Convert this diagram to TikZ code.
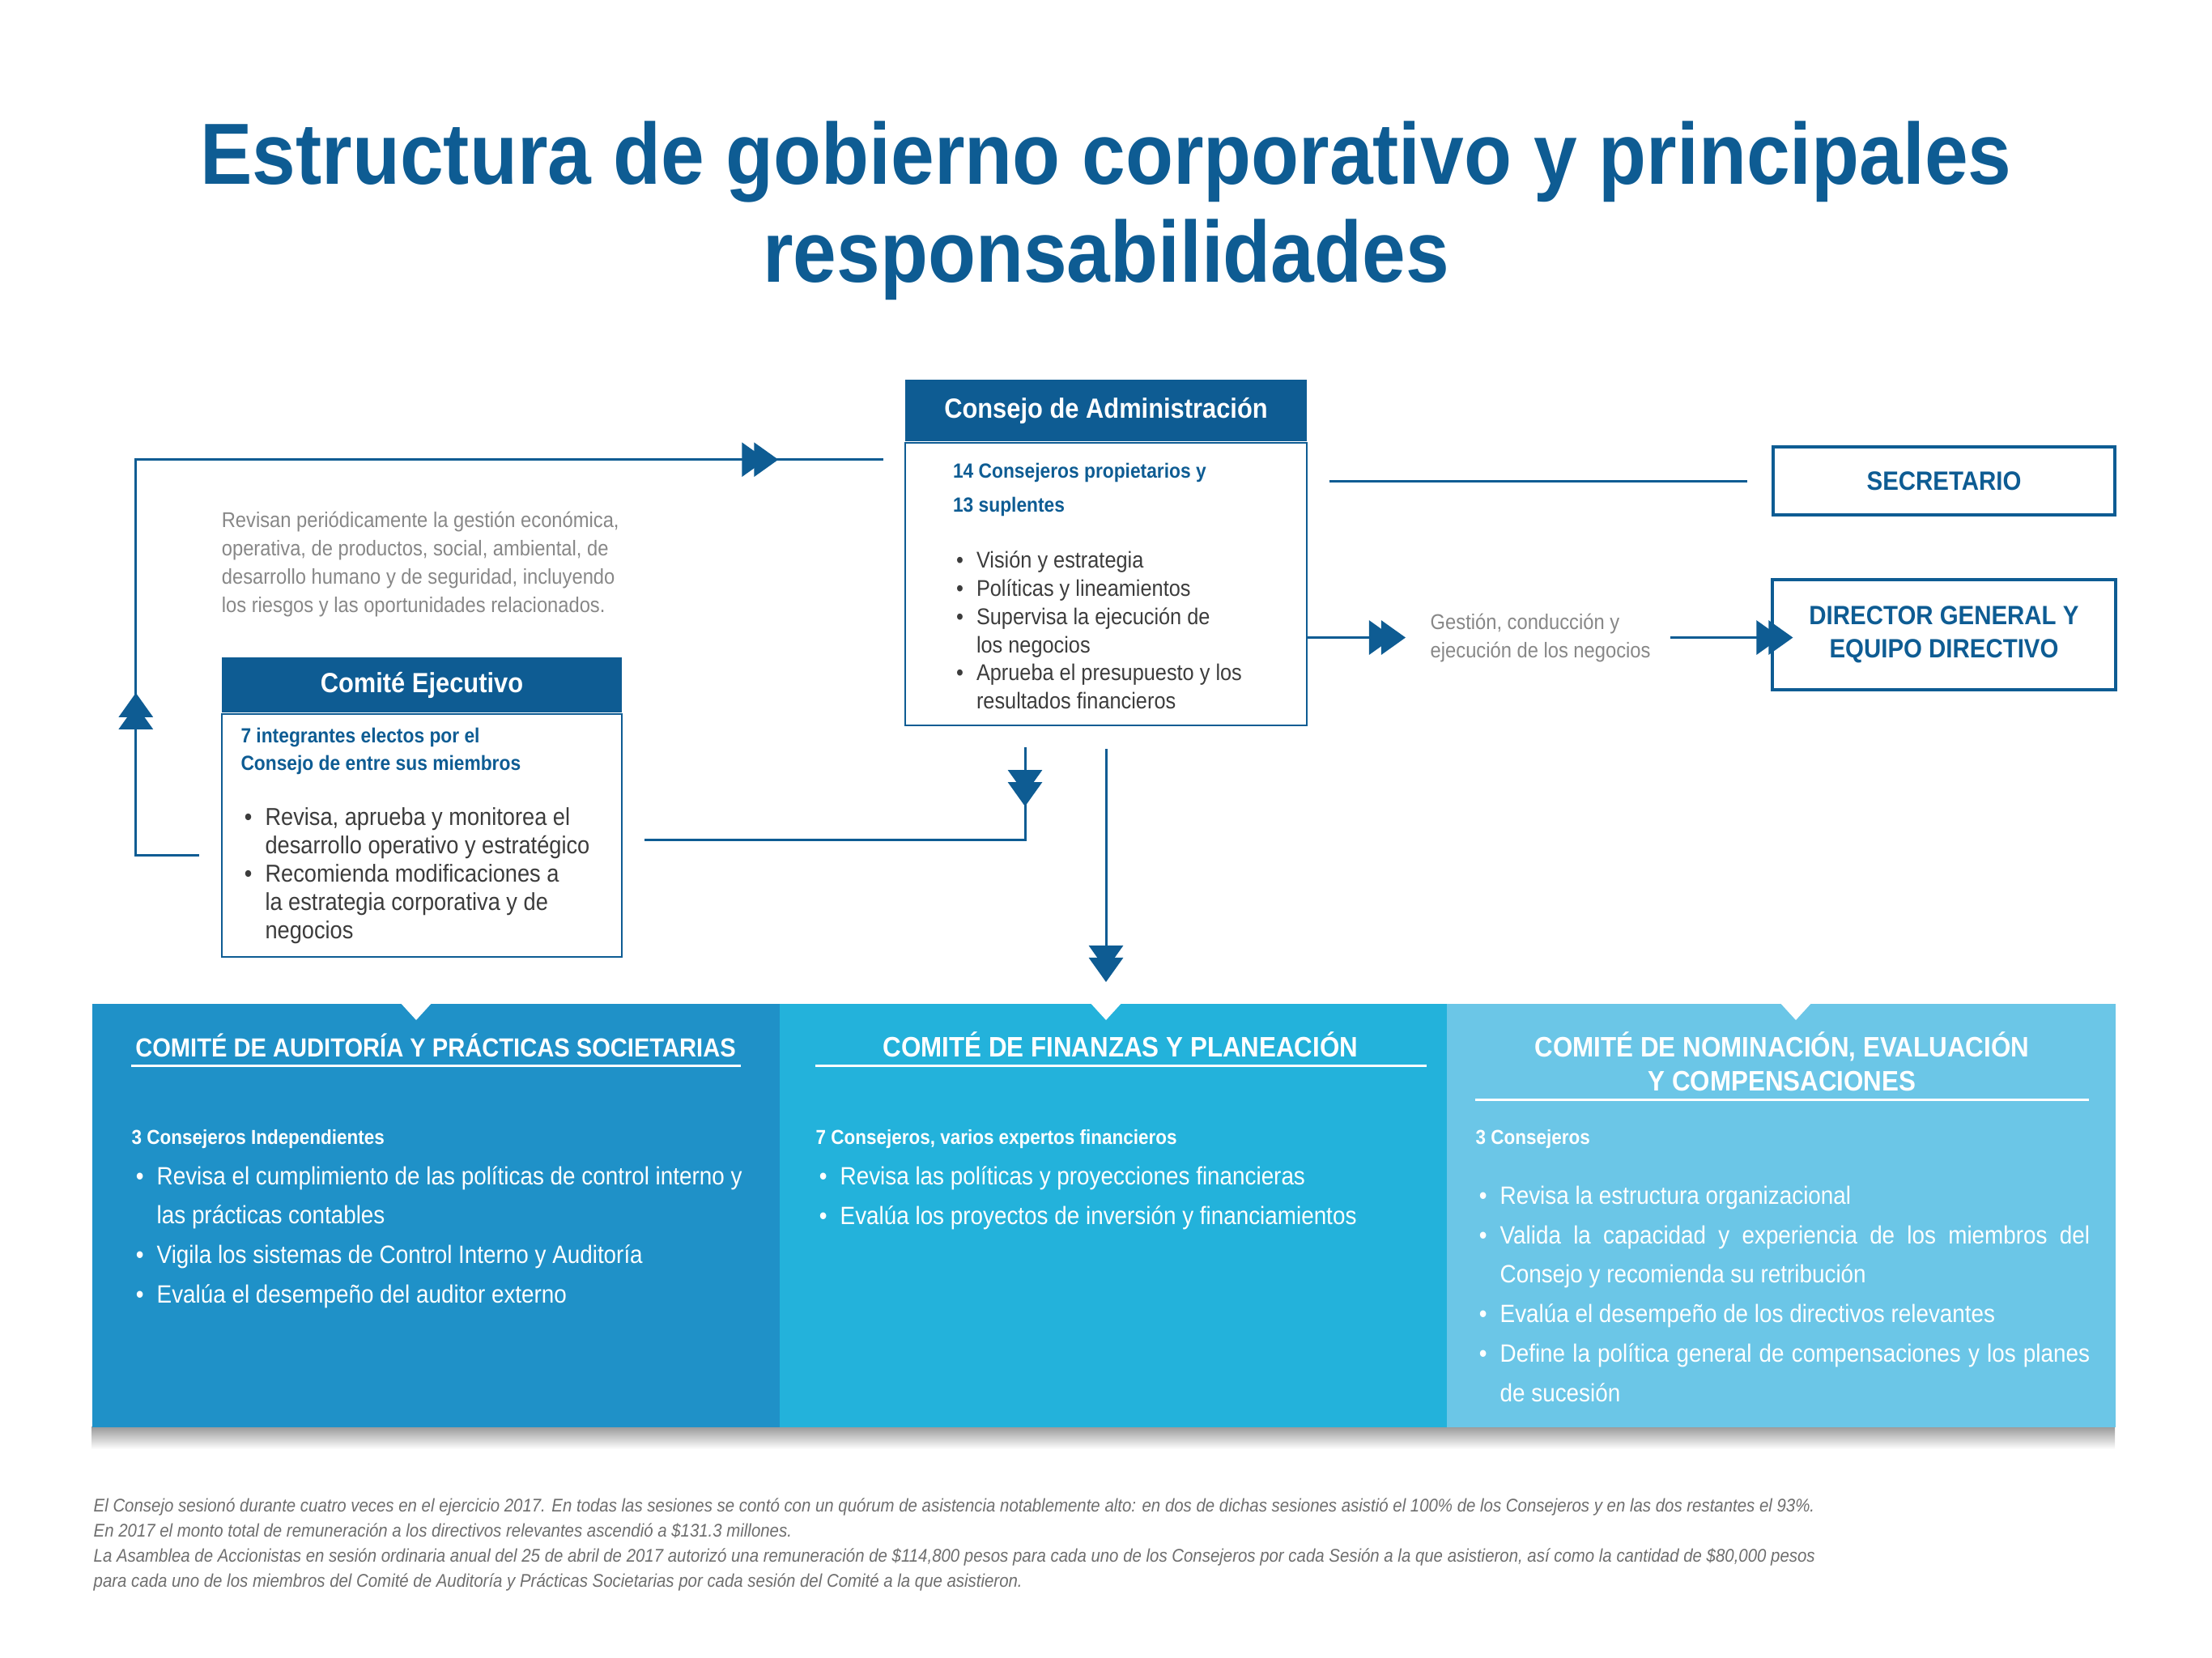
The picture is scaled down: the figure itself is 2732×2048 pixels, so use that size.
\documentclass[tikz,border=0pt]{standalone}
\usepackage{fontspec}
\setmainfont{Liberation Sans}
\newfontfamily\cond[FakeStretch=0.9]{Liberation Sans}
\usepackage{xcolor}
\usetikzlibrary{positioning,calc,arrows.meta,decorations.markings}

\definecolor{cblue}{RGB}{14,92,147}
\definecolor{audblue}{RGB}{31,145,200}
\definecolor{finblue}{RGB}{35,178,219}
\definecolor{nomblue}{RGB}{107,198,231}
\definecolor{txtgray}{RGB}{60,60,60}
\definecolor{ltgray}{RGB}{135,135,135}
\definecolor{ftgray}{RGB}{110,110,110}

\newcommand{\fsz}[2]{\fontsize{#1}{#2}\selectfont}
\newcommand{\bul}{\llap{\textbullet\hspace{1.6mm}}}

\tikzset{
    dtip/.tip={Triangle[length=3mm,width=4.2mm,sep=-1.5mm]Triangle[length=3mm,width=4.2mm]},
    tipat/.style={decoration={markings, mark=at position #1 with {\arrow{dtip}}}}
}

\begin{document}
\begin{tikzpicture}[x=0.01cm, y=-0.01cm,
    boxhead/.style={rectangle, fill=cblue, text=white, inner sep=0pt, font={\cond\bfseries\fsz{9.75}{11}}},
    panel/.style={rectangle, draw=cblue, line width=0.6pt, inner sep=0pt},
    rolebox/.style={rectangle, draw=cblue, line width=1.1pt, inner sep=0pt, text=cblue, align=center, font={\cond\bfseries\fsz{9.3}{11.7}}},
    leadtxt/.style={inner sep=0pt, anchor=base west, align=left, text=cblue, font={\cond\bfseries\fsz{7.2}{11.9}}},
    itemtxt/.style={inner sep=0pt, anchor=base west, align=left, text=txtgray, font={\cond\fsz{8}{9.9}}},
    notetxt/.style={inner sep=0pt, anchor=base west, align=left, text=ltgray, font={\cond\fsz{7.5}{9.95}}},
    combox/.style={rectangle, inner sep=0pt, anchor=north west, minimum height=5.23cm},
    comtitle/.style={inner sep=0pt, anchor=base, align=center, text=white, font={\cond\bfseries\fsz{9.9}{11.9}}},
    comlead/.style={inner sep=0pt, anchor=base west, text=white, font={\cond\bfseries\fsz{7.1}{9}}},
    comitems/.style={inner sep=0pt, anchor=base west, align=left, text=white, font={\cond\fsz{8.8}{13.8}}},
    conn/.style={cblue, line width=0.85pt},
    uline/.style={white, line width=0.85pt}
]
    \useasboundingbox (0,0) rectangle (2732,2048);

    % Titulo (nodes with several lines sit on their last baseline)
    \node[anchor=base, align=center, text=cblue, inner sep=0pt, font={\cond\bfseries\fsz{30.5}{34.4}}] (titulo) at (1366,348)
        {Estructura de gobierno corporativo y principales\\responsabilidades};

    % Consejo de Administracion
    \node[boxhead, minimum width=4.95cm, minimum height=0.76cm] (consejo-h) at (1366,507) {Consejo de Administración};
    \node[panel, anchor=north, minimum width=4.95cm, minimum height=3.49cm] (consejo) at (consejo-h.south) {};
    \node[leadtxt] (consejo-m) at ([shift={(59,87)}]consejo.north west) {14 Consejeros propietarios y\\13 suplentes};
    \node[itemtxt] (consejo-f) at ([shift={(88,330)}]consejo.north west)
        {\bul Visión y estrategia\\\bul Políticas y lineamientos\\\bul Supervisa la ejecución de\\los negocios\\\bul Aprueba el presupuesto y los\\resultados financieros};

    % Secretario y Director
    \node[rolebox, minimum width=4.22cm, minimum height=0.84cm] (secretario) at (2401,594) {SECRETARIO};
    \node[rolebox, minimum width=4.23cm, minimum height=1.36cm] (director) at (2401,784) {DIRECTOR GENERAL Y\\EQUIPO DIRECTIVO};
    \node[notetxt] (gestion) at (1766,812) {Gestión, conducción y\\ejecución de los negocios};

    % Comite Ejecutivo
    \node[boxhead, minimum width=4.94cm, minimum height=0.68cm] (ejecutivo-h) at (521,846) {Comité Ejecutivo};
    \node[panel, anchor=north, minimum width=4.94cm, minimum height=3cm] (ejecutivo) at (ejecutivo-h.south) {};
    \node[leadtxt, font={\cond\bfseries\fsz{7.2}{9.7}}] (ejecutivo-m) at ([shift={(24,71)}]ejecutivo.north west)
        {7 integrantes electos por el\\Consejo de entre sus miembros};
    \node[itemtxt, font={\cond\fsz{8.6}{9.95}}] (ejecutivo-f) at ([shift={(54,279)}]ejecutivo.north west)
        {\bul Revisa, aprueba y monitorea el\\desarrollo operativo y estratégico\\\bul Recomienda modificaciones a\\la estrategia corporativa y de\\negocios};
    \node[notetxt] (revisan) at ([shift={(0,-55)}]ejecutivo-h.north west)
        {Revisan periódicamente la gestión económica,\\operativa, de productos, social, ambiental, de\\desarrollo humano y de seguridad, incluyendo\\los riesgos y las oportunidades relacionados.};

    % Comites
    \shade[top color=black!40, bottom color=white] (113,1762) rectangle (2612,1790);
    \node[combox, fill=audblue, minimum width=8.49cm] (auditoria) at (113,1239) {};
    \node[combox, fill=finblue, minimum width=8.24cm] (finanzas) at (962,1239) {};
    \node[combox, fill=nomblue, minimum width=8.26cm] (nominacion) at (1786,1239) {};
    \fill[white] ([shift={(380,-2)}]auditoria.north west) -- ++(42,0) -- ++(-21,23) -- cycle;
    \fill[white] ([shift={(383,-2)}]finanzas.north west) -- ++(42,0) -- ++(-21,23) -- cycle;
    \fill[white] ([shift={(411,-2)}]nominacion.north west) -- ++(42,0) -- ++(-21,23) -- cycle;

    \node[comtitle, font={\cond\bfseries\fsz{9.2}{11.9}}] (auditoria-t) at ([shift={(425,66)}]auditoria.north west) {COMITÉ DE AUDITORÍA Y PRÁCTICAS SOCIETARIAS};
    \draw[uline] ([shift={(49,77)}]auditoria.north west) -- ([shift={(802,77)}]auditoria.north west);
    \node[comlead] (auditoria-m) at ([shift={(49,174)}]auditoria.north west) {3 Consejeros Independientes};
    \node[comitems] (auditoria-f) at ([shift={(80,370)}]auditoria.north west)
        {\bul Revisa el cumplimiento de las políticas de control interno y\\las prácticas contables\\\bul Vigila los sistemas de Control Interno y Auditoría\\\bul Evalúa el desempeño del auditor externo};

    \node[comtitle] (finanzas-t) at ([shift={(422,66)}]finanzas.north west) {COMITÉ DE FINANZAS Y PLANEACIÓN};
    \draw[uline] ([shift={(45,77)}]finanzas.north west) -- ([shift={(800,77)}]finanzas.north west);
    \node[comlead] (finanzas-m) at ([shift={(45,174)}]finanzas.north west) {7 Consejeros, varios expertos financieros};
    \node[comitems] (finanzas-f) at ([shift={(75,273)}]finanzas.north west)
        {\bul Revisa las políticas y proyecciones financieras\\\bul Evalúa los proyectos de inversión y financiamientos};

    \node[comtitle] (nominacion-t) at ([shift={(415,108)}]nominacion.north west) {COMITÉ DE NOMINACIÓN, EVALUACIÓN\\Y COMPENSACIONES};
    \draw[uline] ([shift={(36,119)}]nominacion.north west) -- ([shift={(794,119)}]nominacion.north west);
    \node[comlead] (nominacion-m) at ([shift={(36,174)}]nominacion.north west) {3 Consejeros};
    \node[comitems, font={\cond\fsz{8.8}{13.85}}] (nominacion-f) at ([shift={(66,492)}]nominacion.north west)
        {\bul Revisa la estructura organizacional\\\bul \makebox[7.28cm][s]{Valida la capacidad y experiencia de los miembros del}\\Consejo y recomienda su retribución\\\bul Evalúa el desempeño de los directivos relevantes\\\bul \makebox[7.28cm][s]{Define la política general de compensaciones y los planes}\\de sucesión};

    % Nota
    \node[inner sep=0pt, anchor=base west, align=left, text=ftgray, font={\cond\itshape\fsz{6.45}{8.8}}] (nota) at (115,1960)
        {El Consejo sesionó durante cuatro veces en el ejercicio 2017. En todas las sesiones se contó con un quórum de asistencia notablemente alto: en dos de dichas sesiones asistió el 100\% de los Consejeros y en las dos restantes el 93\%.\\
        En 2017 el monto total de remuneración a los directivos relevantes ascendió a \$131.3 millones.\\
        La Asamblea de Accionistas en sesión ordinaria anual del 25 de abril de 2017 autorizó una remuneración de \$114,800 pesos para cada uno de los Consejeros por cada Sesión a la que asistieron, así como la cantidad de \$80,000 pesos\\
        para cada uno de los miembros del Comité de Auditoría y Prácticas Societarias por cada sesión del Comité a la que asistieron.};

    % Flechas
    \draw[conn] ($(consejo.east |- secretario.west)+(27,0)$) -- ($(secretario.west)+(-30,0)$);
    \draw[conn,-dtip] (consejo.east |- gestion.west) -- ($(gestion.west)+(-30,0)$);
    \draw[conn,-dtip] ($(gestion.east)+(24,0)$) -- ($(gestion.east -| director.west)+(27,0)$);
    \draw[conn, tipat=2.78cm, tipat=13.59cm, postaction={decorate}] ($(ejecutivo.south west)+(-27,-127)$) -- ++(-78,0) |- ($(consejo.north west)+(-26,22)$);
    \draw[conn, tipat=0.73cm, postaction={decorate}] ($(consejo.south)+(-100,26)$) |- ($(ejecutivo.south east)+(27,-146)$);
    \draw[conn,-dtip] ($(consejo.south)+(0,28)$) -- ($(consejo.south |- finanzas.north)+(0,-26)$);
\end{tikzpicture}
\end{document}
